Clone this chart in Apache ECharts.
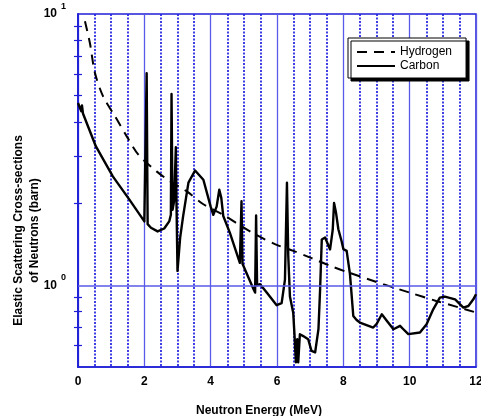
<!DOCTYPE html>
<html>
<head>
<meta charset="utf-8">
<script src="https://cdn.jsdelivr.net/npm/echarts@6/dist/echarts.min.js"></script>
<style>
  html, body { margin: 0; padding: 0; background: #fff; }
  #chart { width: 481px; height: 416px; }
</style>
</head>
<body>
<div id="chart"></div>
<script>
// Neutron energy (MeV) vs elastic scattering cross-section (barn)
const hydrogenEnergy = [0.21, 0.36, 0.51, 0.76, 1.12, 1.47, 1.82, 2.37, 2.77, 3.28, 3.78, 4.38, 4.93, 5.39, 5.99, 6.49, 7.04, 7.6, 8.2, 9.2, 10.0, 10.8, 11.5, 12.0];
const hydrogenSigma  = [9.4, 7.8, 6.07, 4.96, 4.19, 3.54, 3.03, 2.63, 2.42, 2.22, 1.99, 1.82, 1.65, 1.53, 1.41, 1.34, 1.26, 1.18, 1.11, 1.01, 0.94, 0.876, 0.828, 0.794];

const carbonEnergy = [0.0, 0.1, 0.12, 0.15, 0.54, 1.05, 1.55, 2.0, 2.05, 2.07, 2.1, 2.2, 2.4, 2.6, 2.75, 2.8, 2.82, 2.85, 2.9, 2.95, 2.97, 3.0, 3.08, 3.17, 3.33, 3.53, 3.78, 4.0, 4.08, 4.18, 4.26, 4.32, 4.38, 4.58, 4.88, 4.93, 4.96, 5.08, 5.29, 5.34, 5.37, 5.4, 5.49, 5.69, 5.99, 6.14, 6.24, 6.3, 6.34, 6.39, 6.49, 6.54, 6.57, 6.61, 6.64, 6.69, 6.79, 6.94, 7.04, 7.15, 7.25, 7.3, 7.35, 7.45, 7.6, 7.68, 7.72, 7.78, 7.85, 7.95, 8.0, 8.1, 8.2, 8.3, 8.4, 8.5, 8.9, 9.0, 9.16, 9.31, 9.51, 9.71, 9.81, 9.96, 10.31, 10.51, 10.71, 10.91, 11.06, 11.37, 11.62, 11.77, 11.92, 12.0];
const carbonSigma  = [4.7, 4.38, 4.6, 4.3, 3.25, 2.52, 2.07, 1.72, 1.70, 6.05, 1.68, 1.63, 1.58, 1.62, 1.72, 1.82, 5.07, 1.9, 2.05, 3.23, 2.0, 1.13, 1.5, 1.8, 2.39, 2.65, 2.45, 1.95, 1.82, 1.95, 2.25, 2.1, 1.8, 1.56, 1.21, 2.04, 1.2, 1.11, 0.97, 0.94, 1.81, 1.0, 1.01, 0.94, 0.845, 0.86, 1.05, 2.39, 1.28, 0.91, 0.79, 0.616, 0.52, 0.633, 0.52, 0.66, 0.65, 0.633, 0.573, 0.566, 0.69, 0.967, 1.476, 1.5, 1.356, 1.6, 2.01, 1.85, 1.61, 1.45, 1.36, 1.34, 1.1, 0.771, 0.745, 0.729, 0.699, 0.719, 0.782, 0.74, 0.689, 0.709, 0.689, 0.661, 0.67, 0.719, 0.816, 0.901, 0.909, 0.888, 0.828, 0.839, 0.888, 0.927];

const xMajorTicks = [0, 2, 4, 6, 8, 10, 12];
const xMinorTicks = [0.5, 1, 1.5, 2.5, 3, 3.5, 4.5, 5, 5.5, 6.5, 7, 7.5, 8.5, 9, 9.5, 10.5, 11, 11.5];
const yLabelValues = [1, 10];
const yMinorTicks = [0.6, 0.7, 0.8, 0.9, 2, 3, 4, 5, 6, 7, 8, 9];

const BLUE = '#1f1fd6';
const GRID_BLUE = '#5a5ae8';
const DOT_BLUE = '#2b2be0';
const FONT = '"Liberation Sans", Arial, sans-serif';

const pairs = (xs, ys) => xs.map((x, i) => [x, ys[i]]);

const yLabel = {
  fontFamily: FONT,
  color: '#000',
  margin: 12,
  customValues: yLabelValues,
  formatter: v => '{a|10}{s|' + Math.round(Math.log10(v)) + '}',
  rich: {
    a: { fontSize: 12, fontWeight: 'bold', fontFamily: FONT, lineHeight: 24, verticalAlign: 'middle' },
    s: { fontSize: 9, fontWeight: 'bold', fontFamily: FONT, lineHeight: 12, verticalAlign: 'top', padding: [0, 0, 0, 4] }
  }
};

const chart = echarts.init(document.getElementById('chart'), null, { renderer: 'canvas' });
chart.setOption({
  animation: false,
  backgroundColor: '#fff',
  grid: {
    left: 78, right: 5, top: 14, bottom: 49,
    containLabel: false, outerBoundsMode: 'none',
    show: true, borderColor: BLUE, borderWidth: 1.5, backgroundColor: 'transparent'
  },
  legend: {
    orient: 'vertical',
    left: 348, top: 38,
    padding: [8, 14, 6, 8],
    itemWidth: 38, itemHeight: 12, itemGap: 2,
    backgroundColor: '#fff',
    borderColor: '#000', borderWidth: 1,
    shadowColor: '#000', shadowOffsetX: 3, shadowOffsetY: 3, shadowBlur: 0,
    itemStyle: { color: 'transparent', borderColor: 'transparent', borderWidth: 0 },
    textStyle: { fontFamily: FONT, fontSize: 12, color: '#000' },
    data: ['Hydrogen', 'Carbon']
  },
  xAxis: [
    {
      type: 'value', min: 0, max: 12, interval: 2,
      name: 'Neutron Energy (MeV)', nameLocation: 'middle', nameGap: 38, nameMoveOverlap: false,
      nameTextStyle: { fontFamily: FONT, fontWeight: 'bold', fontSize: 12, color: '#000', padding: [0, 36, 0, 0] },
      axisLine: { show: true, lineStyle: { color: BLUE, width: 1.5 } },
      axisTick: { show: false, customValues: xMajorTicks },
      axisLabel: { fontFamily: FONT, fontWeight: 'bold', fontSize: 12, color: '#000', margin: 9 },
      splitLine: { show: true, lineStyle: { color: GRID_BLUE, width: 1.3, type: 'solid' } }
    },
    {
      type: 'value', min: 0, max: 12, interval: 0.5, position: 'bottom',
      axisLine: { show: false },
      axisTick: { show: false, customValues: xMinorTicks },
      axisLabel: { show: false, customValues: xMinorTicks },
      splitLine: { show: true, lineStyle: { color: DOT_BLUE, width: 1.8, type: [2, 1.5] } }
    }
  ],
  yAxis: [
    {
      type: 'log', logBase: 10, min: 0.5, max: 10, position: 'left',
      name: 'Elastic Scattering Cross-sections\nof Neutrons (barn)',
      nameLocation: 'middle', nameRotate: 90, nameGap: 35, nameMoveOverlap: false,
      nameTextStyle: { fontFamily: FONT, fontWeight: 'bold', fontSize: 12, color: '#000', lineHeight: 16, padding: [0, 80, 0, 0] },
      axisLine: { show: true, lineStyle: { color: BLUE, width: 1.5 } },
      axisTick: { show: true, inside: true, length: 4, customValues: yMinorTicks, lineStyle: { color: BLUE, width: 1.2 } },
      axisLabel: yLabel,
      splitLine: { show: false }
    },
    {
      type: 'log', logBase: 10, min: 0.5, max: 10, position: 'right',
      axisLine: { show: true, lineStyle: { color: BLUE, width: 1.5 } },
      axisTick: { show: true, inside: true, length: 4, customValues: yMinorTicks, lineStyle: { color: BLUE, width: 1.2 } },
      axisLabel: { show: false },
      splitLine: { show: false }
    }
  ],
  series: [
    {
      name: 'Hydrogen', type: 'line', xAxisIndex: 0, yAxisIndex: 0,
      data: pairs(hydrogenEnergy, hydrogenSigma),
      smooth: 0.3, symbol: 'none', clip: true,
      lineStyle: { color: '#000', width: 2, type: [10, 7] },
      itemStyle: { color: '#000' },
      markLine: {
        silent: true, symbol: 'none', label: { show: false },
        lineStyle: { color: GRID_BLUE, width: 1.5, type: 'solid' },
        data: [{ yAxis: 1 }]
      },
      z: 3
    },
    {
      name: 'Carbon', type: 'line', xAxisIndex: 0, yAxisIndex: 0,
      data: pairs(carbonEnergy, carbonSigma),
      symbol: 'none', clip: true,
      lineStyle: { color: '#000', width: 2.4, join: 'round' },
      itemStyle: { color: '#000' },
      z: 4
    }
  ]
});
</script>
</body>
</html>
